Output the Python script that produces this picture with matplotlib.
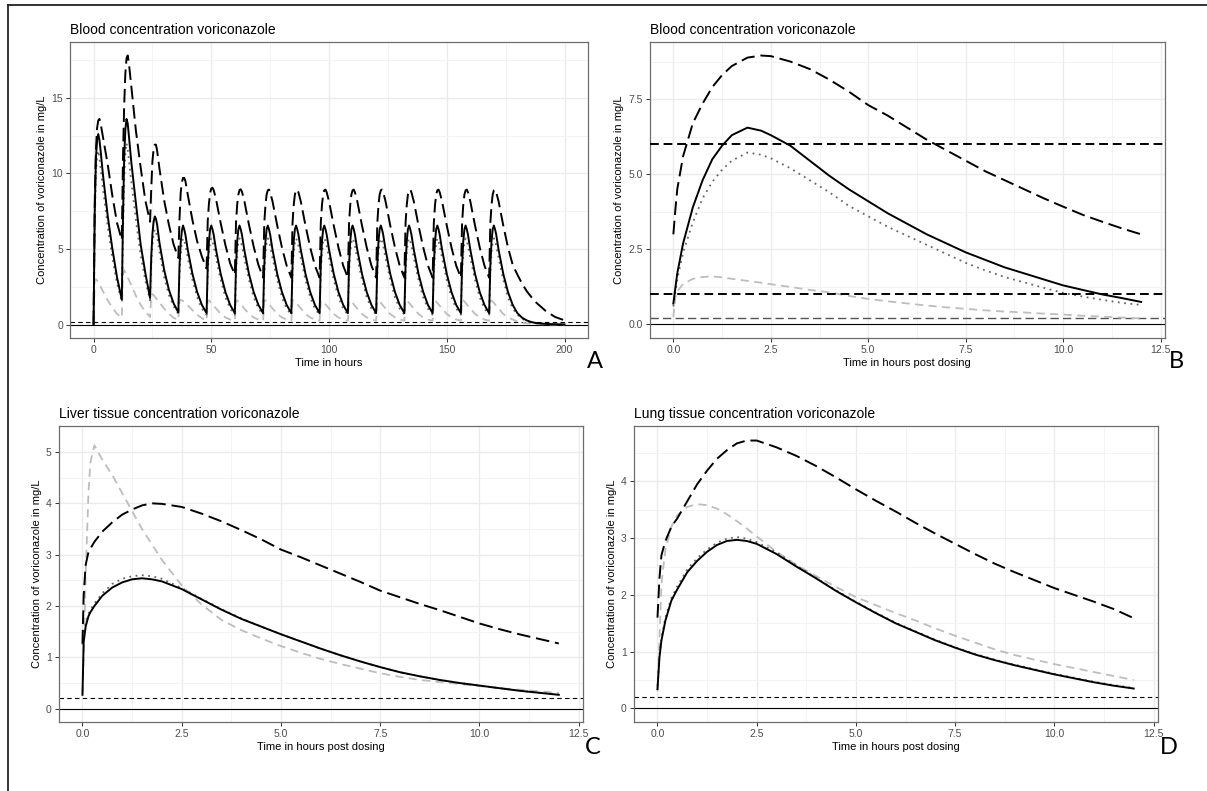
import matplotlib.pyplot as plt
from matplotlib.lines import Line2D
import numpy as np

plt.rcParams['font.family'] = ['Liberation Sans', 'DejaVu Sans']

# ---- panel A: whole course, a dose every 12 h ----
doses = [0, 12, 24, 36, 48, 60, 72, 84, 96, 108, 120, 132, 144, 156, 168]
rel_t = [0, 0.5, 1, 1.5, 2, 2.5, 3, 4, 6, 8, 10]
tail_t = [0, 0.5, 1, 1.5, 2, 2.5, 3, 4, 6, 8, 10, 12, 14, 16, 18, 20, 24, 28, 32]

a_solid = [
    [0, 7.5, 11.0, 12.2, 12.6, 12.2, 11.5, 9.9, 7.2, 5.0, 3.1],
    [1.65, 7.0, 11.0, 12.9, 13.6, 13.3, 12.5, 10.8, 8.0, 5.3, 3.4],
    [1.75, 4.5, 6.0, 6.8, 7.15, 7.0, 6.6, 5.4, 3.6, 2.3, 1.4],
    [0.8, 3.9, 5.4, 6.2, 6.55, 6.3, 5.95, 4.95, 3.35, 2.15, 1.3],
    [0.75, 3.9, 5.5, 6.3, 6.55, 6.3, 5.95, 4.95, 3.35, 2.15, 1.3],
    [0.75, 3.9, 5.5, 6.3, 6.55, 6.3, 5.95, 4.95, 3.35, 2.15, 1.3],
    [0.75, 3.9, 5.5, 6.3, 6.55, 6.3, 5.95, 4.95, 3.35, 2.15, 1.3],
    [0.75, 3.9, 5.5, 6.3, 6.55, 6.3, 5.95, 4.95, 3.35, 2.15, 1.3],
    [0.75, 3.9, 5.5, 6.3, 6.55, 6.3, 5.95, 4.95, 3.35, 2.15, 1.3],
    [0.75, 3.9, 5.5, 6.3, 6.55, 6.3, 5.95, 4.95, 3.35, 2.15, 1.3],
    [0.75, 3.9, 5.5, 6.3, 6.55, 6.3, 5.95, 4.95, 3.35, 2.15, 1.3],
    [0.75, 3.9, 5.5, 6.3, 6.55, 6.3, 5.95, 4.95, 3.35, 2.15, 1.3],
    [0.75, 3.9, 5.5, 6.3, 6.55, 6.3, 5.95, 4.95, 3.35, 2.15, 1.3],
    [0.75, 3.9, 5.5, 6.3, 6.55, 6.3, 5.95, 4.95, 3.35, 2.15, 1.3],
]
a_solid_tail = [0.75, 3.9, 5.5, 6.3, 6.55, 6.3, 5.95, 4.95, 3.35, 2.15, 1.3, 0.75, 0.45, 0.27,
                0.16, 0.1, 0.04, 0.02, 0.01]

a_dashed = [
    [0, 8.0, 11.5, 13.0, 13.5, 13.6, 13.3, 12.4, 10.6, 8.5, 6.7],
    [5.6, 11.0, 14.5, 16.6, 17.6, 17.8, 17.3, 15.8, 12.8, 10.4, 8.2],
    [6.8, 9.0, 10.8, 11.6, 11.9, 11.9, 11.5, 10.3, 8.2, 6.6, 5.3],
    [4.4, 7.0, 8.7, 9.4, 9.7, 9.7, 9.5, 8.6, 6.9, 5.5, 4.5],
    [3.7, 6.9, 8.0, 8.7, 9.0, 9.05, 8.9, 8.3, 6.7, 5.25, 4.05],
    [3.3, 6.75, 7.95, 8.6, 8.9, 8.95, 8.8, 8.2, 6.6, 5.15, 3.95],
    [3.1, 6.7, 7.9, 8.6, 8.88, 8.93, 8.75, 8.15, 6.55, 5.1, 3.9],
    [3.1, 6.7, 7.9, 8.6, 8.88, 8.93, 8.75, 8.15, 6.55, 5.1, 3.9],
    [3.1, 6.7, 7.9, 8.6, 8.88, 8.93, 8.75, 8.15, 6.55, 5.1, 3.9],
    [3.1, 6.7, 7.9, 8.6, 8.88, 8.93, 8.75, 8.15, 6.55, 5.1, 3.9],
    [3.1, 6.7, 7.9, 8.6, 8.88, 8.93, 8.75, 8.15, 6.55, 5.1, 3.9],
    [3.1, 6.7, 7.9, 8.6, 8.88, 8.93, 8.75, 8.15, 6.55, 5.1, 3.9],
    [3.1, 6.7, 7.9, 8.6, 8.88, 8.93, 8.75, 8.15, 6.55, 5.1, 3.9],
    [3.1, 6.7, 7.9, 8.6, 8.88, 8.93, 8.75, 8.15, 6.55, 5.1, 3.9],
]
a_dashed_tail = [3.1, 6.7, 7.9, 8.6, 8.88, 8.93, 8.75, 8.15, 6.55, 5.1, 3.95, 3.3, 2.7, 2.2,
                 1.8, 1.45, 0.9, 0.5, 0.28]

a_dotted = [
    [0, 6.5, 10.0, 11.1, 11.5, 11.0, 10.3, 9.0, 6.5, 4.4, 2.7],
    [1.5, 6.0, 9.5, 11.3, 12.0, 11.6, 10.9, 9.5, 6.9, 4.6, 2.9],
    [1.6, 4.0, 5.3, 6.0, 6.3, 6.1, 5.8, 4.8, 3.1, 1.95, 1.2],
    [0.7, 3.3, 4.6, 5.4, 5.7, 5.55, 5.3, 4.4, 2.95, 1.8, 1.05],
    [0.65, 3.4, 4.75, 5.45, 5.7, 5.53, 5.2, 4.4, 2.95, 1.8, 1.05],
    [0.65, 3.4, 4.75, 5.45, 5.7, 5.53, 5.2, 4.4, 2.95, 1.8, 1.05],
    [0.65, 3.4, 4.75, 5.45, 5.7, 5.53, 5.2, 4.4, 2.95, 1.8, 1.05],
    [0.65, 3.4, 4.75, 5.45, 5.7, 5.53, 5.2, 4.4, 2.95, 1.8, 1.05],
    [0.65, 3.4, 4.75, 5.45, 5.7, 5.53, 5.2, 4.4, 2.95, 1.8, 1.05],
    [0.65, 3.4, 4.75, 5.45, 5.7, 5.53, 5.2, 4.4, 2.95, 1.8, 1.05],
    [0.65, 3.4, 4.75, 5.45, 5.7, 5.53, 5.2, 4.4, 2.95, 1.8, 1.05],
    [0.65, 3.4, 4.75, 5.45, 5.7, 5.53, 5.2, 4.4, 2.95, 1.8, 1.05],
    [0.65, 3.4, 4.75, 5.45, 5.7, 5.53, 5.2, 4.4, 2.95, 1.8, 1.05],
    [0.65, 3.4, 4.75, 5.45, 5.7, 5.53, 5.2, 4.4, 2.95, 1.8, 1.05],
]
a_dotted_tail = [0.65, 3.4, 4.75, 5.45, 5.7, 5.53, 5.2, 4.4, 2.95, 1.8, 1.05, 0.65, 0.38, 0.22,
                 0.13, 0.08, 0.03, 0.01, 0.0]

a_grey = [
    [0, 2.9, 3.0, 2.9, 2.8, 2.65, 2.5, 2.2, 1.6, 1.1, 0.7],
    [0.45, 3.3, 3.6, 3.45, 3.3, 3.1, 2.95, 2.6, 1.9, 1.3, 0.85],
    [0.5, 1.9, 2.0, 1.95, 1.85, 1.75, 1.65, 1.45, 1.05, 0.72, 0.45],
    [0.3, 1.55, 1.65, 1.6, 1.55, 1.5, 1.42, 1.27, 0.95, 0.65, 0.42],
    [0.25, 1.57, 1.6, 1.52, 1.43, 1.34, 1.25, 1.07, 0.7, 0.47, 0.33],
    [0.25, 1.57, 1.6, 1.52, 1.43, 1.34, 1.25, 1.07, 0.7, 0.47, 0.33],
    [0.25, 1.57, 1.6, 1.52, 1.43, 1.34, 1.25, 1.07, 0.7, 0.47, 0.33],
    [0.25, 1.57, 1.6, 1.52, 1.43, 1.34, 1.25, 1.07, 0.7, 0.47, 0.33],
    [0.25, 1.57, 1.6, 1.52, 1.43, 1.34, 1.25, 1.07, 0.7, 0.47, 0.33],
    [0.25, 1.57, 1.6, 1.52, 1.43, 1.34, 1.25, 1.07, 0.7, 0.47, 0.33],
    [0.25, 1.57, 1.6, 1.52, 1.43, 1.34, 1.25, 1.07, 0.7, 0.47, 0.33],
    [0.25, 1.57, 1.6, 1.52, 1.43, 1.34, 1.25, 1.07, 0.7, 0.47, 0.33],
    [0.25, 1.57, 1.6, 1.52, 1.43, 1.34, 1.25, 1.07, 0.7, 0.47, 0.33],
    [0.25, 1.57, 1.6, 1.52, 1.43, 1.34, 1.25, 1.07, 0.7, 0.47, 0.33],
]
a_grey_tail = [0.25, 1.57, 1.6, 1.52, 1.43, 1.34, 1.25, 1.07, 0.7, 0.47, 0.33, 0.2, 0.12, 0.08,
               0.05, 0.03, 0.01, 0.0, 0.0]

# ---- panel B: blood, one interval ----
t_b = [0, 0.05, 0.1, 0.25, 0.5, 0.75, 1, 1.25, 1.5, 1.9, 2.25, 2.5, 3, 3.5, 4, 4.5, 5, 5.5, 6,
       6.5, 7, 7.5, 8, 8.5, 9, 9.5, 10, 10.5, 11, 11.5, 12]
b_solid = [0.7, 1.2, 1.7, 2.7, 3.9, 4.8, 5.5, 5.95, 6.3, 6.55, 6.45, 6.3, 5.95, 5.45, 4.95, 4.5,
           4.1, 3.7, 3.35, 3.0, 2.7, 2.4, 2.15, 1.9, 1.7, 1.5, 1.3, 1.15, 1.0, 0.88, 0.75]
b_dashed = [3.0, 3.8, 4.5, 5.6, 6.7, 7.35, 7.9, 8.3, 8.6, 8.88, 8.95, 8.93, 8.75, 8.5, 8.15, 7.75,
            7.3, 6.95, 6.55, 6.15, 5.8, 5.45, 5.1, 4.8, 4.5, 4.2, 3.92, 3.65, 3.42, 3.2, 3.0]
b_dotted = [0.6, 1.05, 1.5, 2.4, 3.4, 4.2, 4.75, 5.15, 5.45, 5.72, 5.65, 5.53, 5.2, 4.8, 4.4, 3.95,
            3.6, 3.25, 2.95, 2.65, 2.35, 2.05, 1.8, 1.58, 1.4, 1.22, 1.05, 0.93, 0.82, 0.72, 0.65]
b_grey = [0.25, 0.9, 1.1, 1.35, 1.52, 1.58, 1.6, 1.57, 1.52, 1.45, 1.39, 1.34, 1.25, 1.15, 1.07, 0.95,
          0.85, 0.77, 0.7, 0.63, 0.57, 0.52, 0.47, 0.43, 0.4, 0.36, 0.33, 0.29, 0.26, 0.23, 0.2]
b_targets = [6, 1]

# ---- panel C: liver ----
t_c = [0, 0.03, 0.08, 0.15, 0.2, 0.3, 0.5, 0.75, 1, 1.25, 1.5, 1.75, 2, 2.5, 3, 3.5, 4, 4.5, 5,
       5.5, 6, 6.5, 7, 7.5, 8, 8.5, 9, 9.5, 10, 10.5, 11, 11.5, 12]
c_solid = [0.27, 1.3, 1.6, 1.8, 1.88, 2.0, 2.2, 2.36, 2.46, 2.52, 2.54, 2.52, 2.48, 2.33, 2.13, 1.93,
           1.75, 1.6, 1.45, 1.31, 1.17, 1.04, 0.92, 0.81, 0.71, 0.63, 0.56, 0.5, 0.45, 0.4, 0.35, 0.31, 0.27]
c_dotted = [1.25, 1.45, 1.65, 1.85, 1.93, 2.05, 2.25, 2.43, 2.53, 2.58, 2.6, 2.58, 2.53, 2.35, 2.14, 1.94,
            1.76, 1.6, 1.45, 1.31, 1.17, 1.04, 0.92, 0.81, 0.71, 0.63, 0.56, 0.5, 0.45, 0.4, 0.35, 0.31, 0.28]
c_dashed = [1.27, 2.2, 2.8, 3.05, 3.12, 3.25, 3.45, 3.63, 3.78, 3.88, 3.96, 4.0, 3.99, 3.93, 3.8, 3.65,
            3.48, 3.3, 3.1, 2.95, 2.79, 2.63, 2.47, 2.3, 2.17, 2.04, 1.92, 1.79, 1.66, 1.55, 1.45, 1.36, 1.27]
c_grey = [0.3, 1.0, 2.6, 4.2, 4.8, 5.13, 4.85, 4.55, 4.2, 3.85, 3.5, 3.2, 2.9, 2.4, 2.03, 1.73,
          1.53, 1.37, 1.22, 1.09, 0.97, 0.87, 0.78, 0.69, 0.62, 0.56, 0.52, 0.48, 0.44, 0.4, 0.37, 0.34, 0.31]

# ---- panel D: lung ----
t_d = [0, 0.05, 0.1, 0.2, 0.35, 0.5, 0.75, 1, 1.25, 1.5, 1.75, 2, 2.25, 2.5, 3, 3.5, 4, 4.5, 5,
       5.5, 6, 6.5, 7, 7.5, 8, 8.5, 9, 9.5, 10, 10.5, 11, 11.5, 12]
d_solid = [0.34, 0.9, 1.2, 1.55, 1.9, 2.1, 2.4, 2.6, 2.76, 2.88, 2.95, 2.97, 2.95, 2.9, 2.72, 2.5,
           2.29, 2.07, 1.87, 1.68, 1.5, 1.35, 1.2, 1.07, 0.95, 0.85, 0.76, 0.68, 0.6, 0.53, 0.46, 0.4, 0.35]
d_dotted = [0.4, 0.95, 1.25, 1.6, 1.95, 2.15, 2.45, 2.65, 2.8, 2.92, 2.99, 3.02, 2.99, 2.93, 2.75, 2.52,
            2.3, 2.08, 1.88, 1.69, 1.51, 1.36, 1.21, 1.08, 0.96, 0.86, 0.77, 0.69, 0.61, 0.54, 0.47, 0.41, 0.36]
d_dashed = [1.6, 2.3, 2.7, 2.95, 3.2, 3.35, 3.65, 3.95, 4.19, 4.4, 4.55, 4.67, 4.72, 4.72, 4.6, 4.45,
            4.27, 4.07, 3.86, 3.66, 3.47, 3.27, 3.08, 2.9, 2.72, 2.55, 2.4, 2.26, 2.12, 2.0, 1.88, 1.75, 1.59]
d_grey = [0.3, 1.2, 2.2, 2.8, 3.2, 3.4, 3.55, 3.6, 3.58, 3.52, 3.42, 3.3, 3.17, 3.03, 2.76, 2.53,
          2.33, 2.14, 1.96, 1.82, 1.68, 1.55, 1.41, 1.28, 1.16, 1.04, 0.94, 0.86, 0.78, 0.71, 0.64, 0.57, 0.5]

loq = 0.2
ylab = 'Concentration of voriconazole in mg/L'


def join_course(rows, tail):
    # glue the dosing intervals of panel A together
    t = [d + r for d in doses[:-1] for r in rel_t] + [doses[-1] + r for r in tail_t]
    v = [x for row in rows for x in row] + tail
    return t, v


def draw_series(ax, t, solid, dashed, dotted, grey):
    ax.plot(t, grey, color='#bdbdbd', lw=1.3, ls=(0, (4.5, 3)), zorder=3)
    ax.plot(t, dotted, color='#666666', lw=1.3, ls=(0, (1, 2.5)), zorder=4)
    ax.plot(t, solid, color='black', lw=1.4, zorder=5)
    ax.plot(t, dashed, color='black', lw=1.4, ls=(0, (7, 3)), zorder=6)


def style_panel(ax, xlim, ylim, xt, xtl, yt, ytl, xlabel, title):
    ax.set_xlim(xlim)
    ax.set_ylim(ylim)
    ax.set_xticks(xt)
    ax.set_xticklabels(xtl)
    ax.set_yticks(yt)
    ax.set_yticklabels(ytl)
    ax.set_xticks([(xt[i] + xt[i + 1]) / 2 for i in range(len(xt) - 1)], minor=True)
    ym = [(yt[i] + yt[i + 1]) / 2 for i in range(len(yt) - 1)] + [yt[-1] + (yt[1] - yt[0]) / 2]
    ax.set_yticks(ym, minor=True)
    ax.grid(which='major', color='#ebebeb', lw=1.0)
    ax.grid(which='minor', color='#f3f3f3', lw=0.7)
    ax.set_axisbelow(True)
    ax.tick_params(which='minor', length=0)
    ax.tick_params(which='major', length=3, width=0.7, color='#333333',
                   labelsize=7.5, labelcolor='#4d4d4d', pad=2)
    for s in ax.spines.values():
        s.set_color('#6e6e6e')
        s.set_linewidth(0.9)
    ax.set_xlabel(xlabel, fontsize=8, labelpad=2)
    ax.set_ylabel(ylab, fontsize=8, labelpad=3)
    ax.set_title(title, loc='left', fontsize=10, pad=6)
    ax.axhline(0, color='black', lw=0.8, zorder=2)


fig = plt.figure(figsize=(12.07, 7.91), dpi=100)

# A
ax = fig.add_axes([0.0580, 0.5727, 0.4292, 0.3742])
t_a, s_a = join_course(a_solid, a_solid_tail)
_, d_a = join_course(a_dashed, a_dashed_tail)
_, o_a = join_course(a_dotted, a_dotted_tail)
_, g_a = join_course(a_grey, a_grey_tail)
draw_series(ax, t_a, s_a, d_a, o_a, g_a)
ax.axhline(loq, color='black', lw=0.8, ls=(0, (4, 3)), zorder=2)
style_panel(ax, (-10, 210), (-0.89, 18.69), [0, 50, 100, 150, 200], ['0', '50', '100', '150', '200'],
            [0, 5, 10, 15], ['0', '5', '10', '15'], 'Time in hours', 'Blood concentration voriconazole')

# B
ax = fig.add_axes([0.5385, 0.5727, 0.4263, 0.3742])
draw_series(ax, t_b, b_solid, b_dashed, b_dotted, b_grey)
for y in b_targets:
    ax.axhline(y, color='black', lw=1.4, ls=(0, (4.5, 2.5)), zorder=7)
ax.axhline(loq, color='#555555', lw=1.0, ls=(0, (6, 3)), zorder=2)
xt = [0, 2.5, 5, 7.5, 10, 12.5]
xtl = ['0.0', '2.5', '5.0', '7.5', '10.0', '12.5']
style_panel(ax, (-0.6, 12.6), (-0.45, 9.4), xt, xtl, [0, 2.5, 5, 7.5], ['0.0', '2.5', '5.0', '7.5'],
            'Time in hours post dosing', 'Blood concentration voriconazole')

# C
ax = fig.add_axes([0.0486, 0.0872, 0.4341, 0.3738])
draw_series(ax, t_c, c_solid, c_dashed, c_dotted, c_grey)
ax.axhline(loq, color='black', lw=0.8, ls=(0, (4, 3)), zorder=2)
style_panel(ax, (-0.6, 12.6), (-0.26, 5.39), xt, xtl, [0, 1, 2, 3, 4, 5], ['0', '1', '2', '3', '4', '5'],
            'Time in hours post dosing', 'Liver tissue concentration voriconazole')

# D
ax = fig.add_axes([0.5250, 0.0872, 0.4340, 0.3738])
draw_series(ax, t_d, d_solid, d_dashed, d_dotted, d_grey)
ax.axhline(loq, color='black', lw=0.8, ls=(0, (4, 3)), zorder=2)
style_panel(ax, (-0.6, 12.6), (-0.24, 4.97), xt, xtl, [0, 1, 2, 3, 4], ['0', '1', '2', '3', '4'],
            'Time in hours post dosing', 'Lung tissue concentration voriconazole')

# panel letters
for lab, x, y in [('A', 595, 362), ('B', 1176, 362), ('C', 593, 747), ('D', 1169, 747)]:
    fig.text(x / 1207, 1 - y / 791, lab, fontsize=17, family=['Lato', 'DejaVu Sans'],
             ha='center', va='center')

# frame round the figure (left and top edges only)
fig.add_artist(Line2D([7.5 / 1207, 7.5 / 1207], [0, 1 - 5 / 791], transform=fig.transFigure,
                      color='#222222', lw=1.3))
fig.add_artist(Line2D([7.5 / 1207, 1], [1 - 5 / 791, 1 - 5 / 791], transform=fig.transFigure,
                      color='#222222', lw=1.3))

fig.savefig('out.png', dpi=100)
